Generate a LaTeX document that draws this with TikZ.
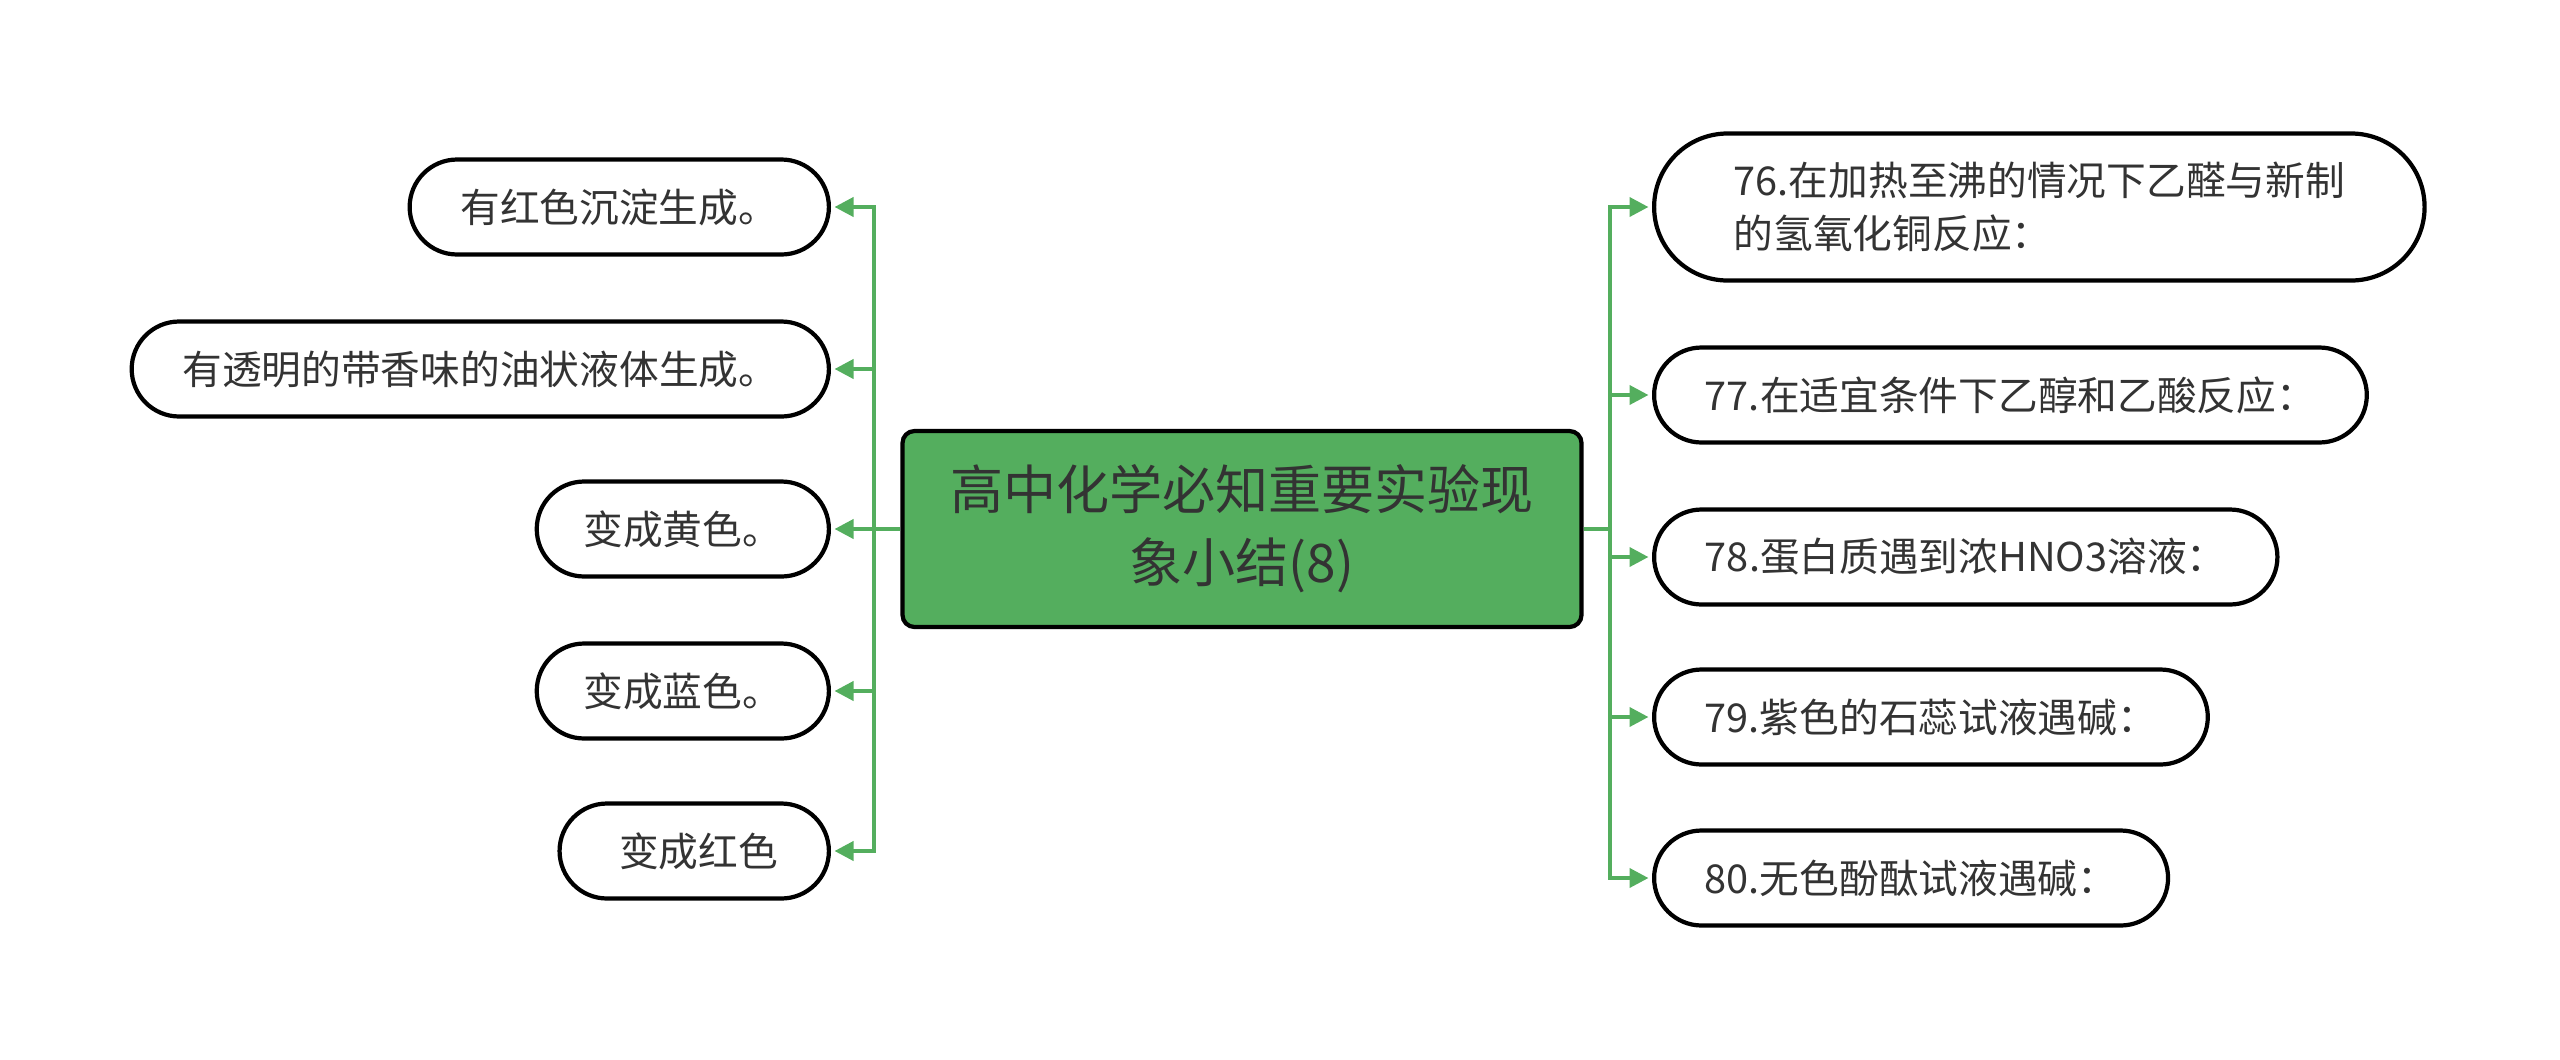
\documentclass[tikz,border=0pt]{standalone}
\usepackage{fontspec}
\setmainfont{Noto Sans CJK SC}
\usetikzlibrary{arrows.meta}
\usetikzlibrary{shapes.misc}
\definecolor{green1}{RGB}{84, 174, 94}
\definecolor{text1}{RGB}{51, 51, 51}

\begin{document}
\begin{tikzpicture}[line width=1.2pt,
  leaf/.style={rounded rectangle, draw=black, fill=white, text=text1, minimum height=0.95cm,
    inner xsep=0.47cm, font=\fontsize{11.3}{15.3}\selectfont},
  link/.style={draw=green1, line width=1.1pt, -{Triangle[length=0.19cm, width=0.19cm]}, shorten >=1pt}]
  \useasboundingbox (0,0) rectangle (25.6,-10.59);

  \node[rounded corners=0.12cm, draw=black, fill=green1, text=text1, minimum width=6.79cm,
    minimum height=1.96cm, align=center, font=\fontsize{15.1}{20.8}\selectfont] (c) at (12.42,-5.29)
    {高中化学必知重要实验现\\象小结(8)};

  % left side
  \node[leaf, anchor=east] (l1) at (8.31,-2.07) {有红色沉淀生成。};
  \node[leaf, anchor=east] (l2) at (8.31,-3.69) {有透明的带香味的油状液体生成。};
  \node[leaf, anchor=east, inner xsep=0.43cm] (l3) at (8.31,-5.29) {变成黄色。};
  \node[leaf, anchor=east, inner xsep=0.43cm] (l4) at (8.31,-6.91) {变成蓝色。};
  \node[leaf, anchor=east] (l5) at (8.31,-8.51) {~变成红色};

  % right side
  \node[leaf, anchor=west, align=left, minimum height=1.47cm, inner xsep=0.64cm] (r1) at (16.52,-2.07)
    {76.在加热至沸的情况下乙醛与新制\\的氢氧化铜反应：};
  \node[leaf, anchor=west] (r2) at (16.52,-3.95) {77.在适宜条件下乙醇和乙酸反应：};
  \node[leaf, anchor=west] (r3) at (16.52,-5.57) {78.蛋白质遇到浓HNO3溶液：};
  \node[leaf, anchor=west] (r4) at (16.52,-7.17) {79.紫色的石蕊试液遇碱：};
  \node[leaf, anchor=west] (r5) at (16.52,-8.78) {80.无色酚酞试液遇碱：};

  \foreach \to in {l1,l2,l3,l4,l5}
    \draw[link] (c.west) -- ++(-0.26,0) |- (\to.east);
  \foreach \to in {r1,r2,r3,r4,r5}
    \draw[link] (c.east) -- ++(0.26,0) |- (\to.west);
\end{tikzpicture}
\end{document}
